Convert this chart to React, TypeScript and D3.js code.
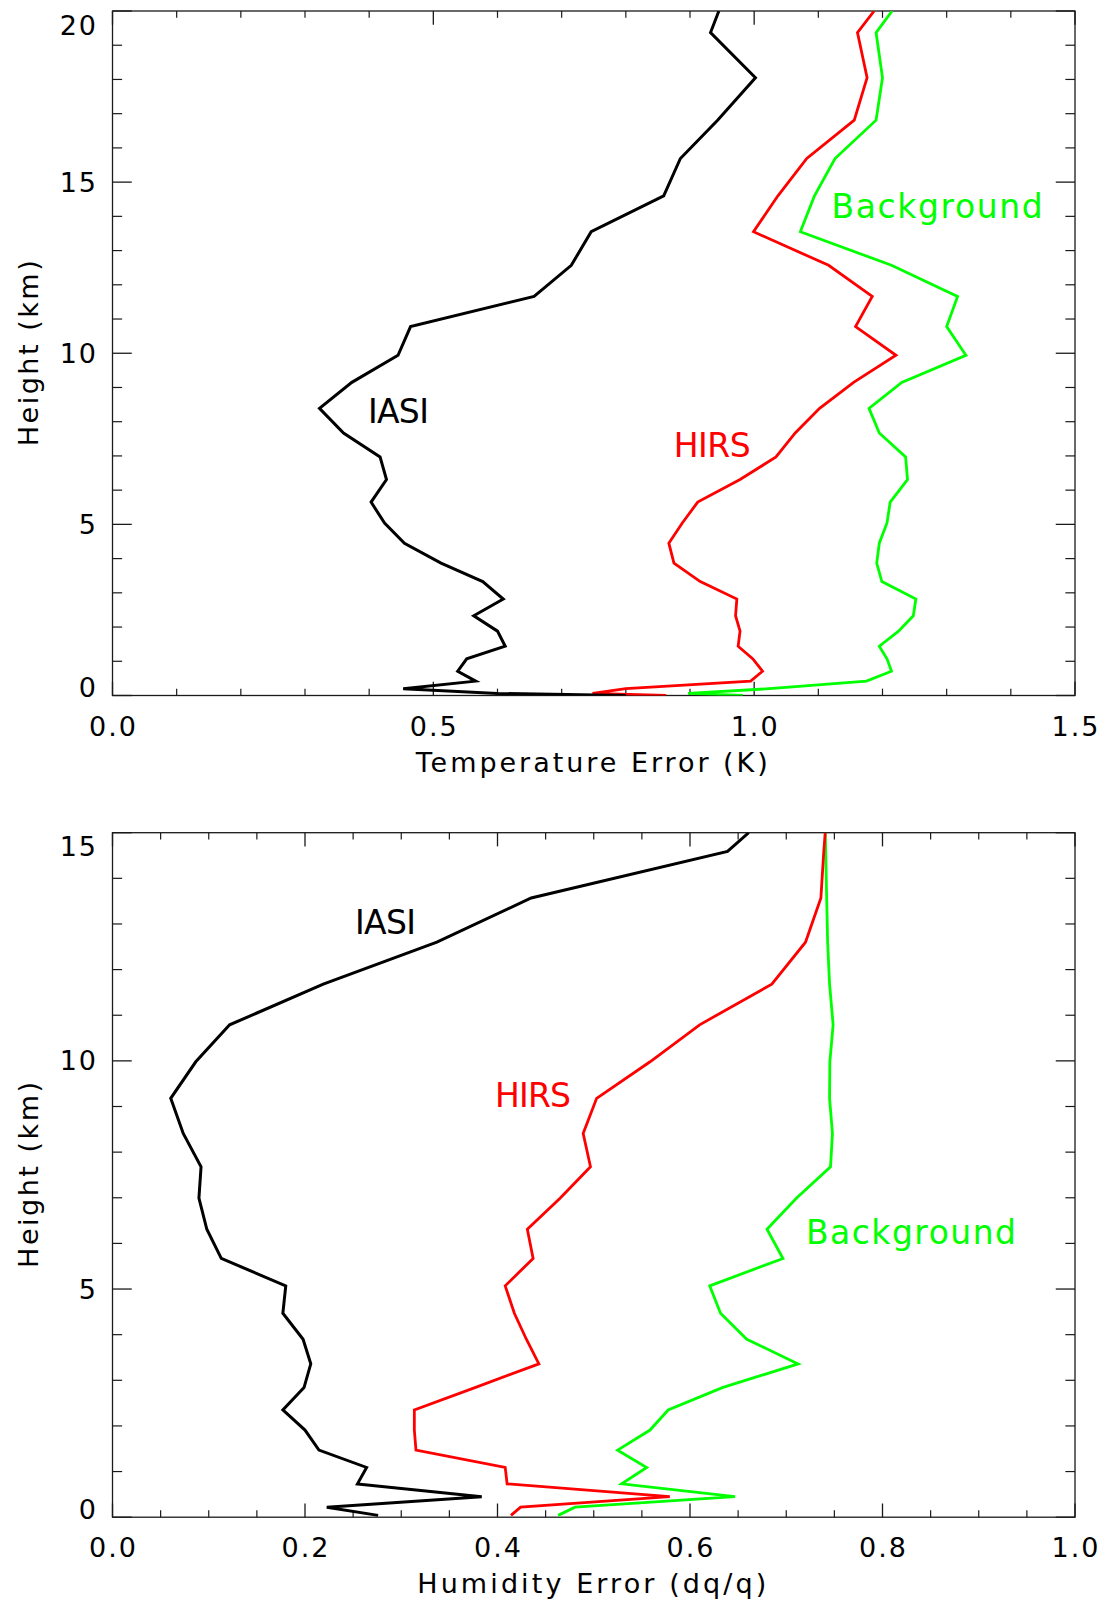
import React from 'react';
import * as d3 from 'd3';

// ---------- Temperature panel data ----------
const levelsT = [20, 19.37, 18.05, 16.81, 15.69, 14.6, 13.55, 12.57, 11.66, 10.78, 9.94, 9.15, 8.39, 7.67, 6.97, 6.31, 5.65, 5.04, 4.45, 3.87, 3.33, 2.82, 2.33, 1.88, 1.44, 1.07, 0.71, 0.42, 0.2, 0.06, 0];
const iasiT = [0.945, 0.932, 1.002, 0.943, 0.885, 0.859, 0.746, 0.715, 0.657, 0.4645, 0.445, 0.373, 0.3226, 0.36, 0.417, 0.427, 0.403, 0.424, 0.455, 0.512, 0.577, 0.609, 0.563, 0.6, 0.612, 0.552, 0.538, 0.566, 0.453, 0.6, 0.8];
const hirsT = [1.187, 1.161, 1.176, 1.156, 1.082, 1.037, 0.999, 1.116, 1.184, 1.158, 1.221, 1.155, 1.102, 1.064, 1.034, 0.978, 0.912, 0.888, 0.867, 0.875, 0.916, 0.973, 0.971, 0.978, 0.975, 0.998, 1.013, 0.9945, 0.8, 0.748, 0.863];
const bgT = [1.215, 1.19, 1.2, 1.19, 1.126, 1.094, 1.072, 1.214, 1.317, 1.3, 1.33, 1.23, 1.179, 1.195, 1.236, 1.239, 1.212, 1.207, 1.195, 1.191, 1.199, 1.252, 1.248, 1.225, 1.195, 1.207, 1.214, 1.175, 1.024, 0.897, 0.9826];
const xTicksT = [0, 0.5, 1.0, 1.5];
const yTicksT = [0, 5, 10, 15, 20];

// ---------- Humidity panel data ----------
const levelsQ = [15, 14.59, 13.57, 12.6, 11.68, 10.79, 9.98, 9.18, 8.41, 7.68, 6.99, 6.31, 5.67, 5.07, 4.47, 3.9, 3.36, 2.84, 2.35, 1.91, 1.47, 1.09, 0.73, 0.45, 0.22, 0.04];
const iasiQ = [0.661, 0.639, 0.435, 0.337, 0.219, 0.1217, 0.0865, 0.0605, 0.0735, 0.092, 0.0898, 0.098, 0.113, 0.18, 0.177, 0.198, 0.206, 0.199, 0.177, 0.2, 0.2145, 0.264, 0.2545, 0.3836, 0.2226, 0.276];
const hirsQ = [0.7405, 0.739, 0.736, 0.72, 0.685, 0.61, 0.5585, 0.503, 0.489, 0.4966, 0.465, 0.431, 0.437, 0.408, 0.4175, 0.43, 0.443, 0.3766, 0.3136, 0.3136, 0.3153, 0.408, 0.41, 0.579, 0.424, 0.414];
const bgQ = [0.7405, 0.741, 0.742, 0.743, 0.745, 0.7487, 0.7453, 0.745, 0.748, 0.746, 0.7105, 0.68, 0.6966, 0.6205, 0.6317, 0.659, 0.7123, 0.6336, 0.5773, 0.5585, 0.5248, 0.555, 0.529, 0.6468, 0.4805, 0.463];
const xTicksQ = [0, 0.2, 0.4, 0.6, 0.8, 1.0];
const yTicksQ = [0, 5, 10, 15];

const seriesNames = ['IASI', 'HIRS', 'Background'];

const FONT = '"DejaVu Sans", "Liberation Sans", sans-serif';
const BLACK = '#000000';
const RED = '#ff0000';
const GREEN = '#00ff00';

type Series = { values: number[]; color: string; width: number };
type Label = { text: string; at: [number, number]; width: number; color: string };

interface PanelProps {
  id: string;
  top: number;
  bottom: number;
  xMax: number;
  xTicks: number[];
  xMinorStep: number;
  yMax: number;
  yTicks: number[];
  yMinorStep: number;
  xTitle: string;
  xTitleWidth: number;
  levels: number[];
  series: Series[];
  labels: Label[];
}

const LEFT = 112.5;
const RIGHT = 1075;

function Panel(p: PanelProps) {
  const x = d3.scaleLinear().domain([0, p.xMax]).range([LEFT, RIGHT]);
  const y = d3.scaleLinear().domain([0, p.yMax]).range([p.bottom, p.top]);
  const line = d3
    .line<[number, number]>()
    .x((d) => x(d[0]))
    .y((d) => y(d[1]));

  const near = (a: number, list: number[]) => list.some((t) => Math.abs(t - a) < 1e-6);
  const xMinor = d3
    .range(0, p.xMax + 1e-9, p.xMinorStep)
    .map((v) => Math.round(v * 1000) / 1000)
    .filter((v) => !near(v, p.xTicks));
  const yMinor = d3
    .range(0, p.yMax + 1e-9, p.yMinorStep)
    .map((v) => Math.round(v * 1000) / 1000)
    .filter((v) => !near(v, p.yTicks));

  const ph = p.bottom - p.top;
  const pw = RIGHT - LEFT;
  const xMajLen = ph * 0.02;
  const yMajLen = pw * 0.02;
  const axisColor = '#1a1a1a';
  const fmtX = d3.format('.1f');

  const clipId = `clip-${p.id}`;
  return (
    <g>
      <defs>
        <clipPath id={clipId}>
          <rect x={LEFT} y={p.top} width={pw} height={ph} />
        </clipPath>
      </defs>
      <rect x={LEFT} y={p.top} width={pw} height={ph} fill="none" stroke={axisColor} strokeWidth={1.3} />
      {p.xTicks.map((t) => (
        <g key={`xt${t}`} stroke={axisColor} strokeWidth={1.3}>
          <line x1={x(t)} x2={x(t)} y1={p.bottom} y2={p.bottom - xMajLen} />
          <line x1={x(t)} x2={x(t)} y1={p.top} y2={p.top + xMajLen} />
        </g>
      ))}
      {xMinor.map((t) => (
        <g key={`xm${t}`} stroke={axisColor} strokeWidth={1.2}>
          <line x1={x(t)} x2={x(t)} y1={p.bottom} y2={p.bottom - xMajLen / 2} />
          <line x1={x(t)} x2={x(t)} y1={p.top} y2={p.top + xMajLen / 2} />
        </g>
      ))}
      {p.yTicks.map((t) => (
        <g key={`yt${t}`} stroke={axisColor} strokeWidth={1.3}>
          <line x1={LEFT} x2={LEFT + yMajLen} y1={y(t)} y2={y(t)} />
          <line x1={RIGHT} x2={RIGHT - yMajLen} y1={y(t)} y2={y(t)} />
        </g>
      ))}
      {yMinor.map((t) => (
        <g key={`ym${t}`} stroke={axisColor} strokeWidth={1.2}>
          <line x1={LEFT} x2={LEFT + yMajLen / 2} y1={y(t)} y2={y(t)} />
          <line x1={RIGHT} x2={RIGHT - yMajLen / 2} y1={y(t)} y2={y(t)} />
        </g>
      ))}
      {p.xTicks.map((t) => (
        <text
          key={`xl${t}`}
          x={x(t) + 1}
          y={p.bottom + 40}
          textAnchor="middle"
          fontFamily={FONT}
          fontSize={27}
          letterSpacing={2}
          fill="#000"
        >
          {fmtX(t)}
        </text>
      ))}
      {p.yTicks.map((t) => {
        const cy = Math.min(Math.max(y(t), p.top + 14), p.bottom - 8);
        return (
          <text
            key={`yl${t}`}
            x={98}
            y={cy}
            textAnchor="end"
            dominantBaseline="central"
            fontFamily={FONT}
            fontSize={27}
            letterSpacing={2}
            fill="#000"
          >
            {String(t)}
          </text>
        );
      })}
      <text
        x={(LEFT + RIGHT) / 2 - 2}
        y={p.bottom + 76}
        textAnchor="middle"
        fontFamily={FONT}
        fontSize={27}
        textLength={p.xTitleWidth}
        lengthAdjust="spacing"
        fill="#000"
      >
        {p.xTitle}
      </text>
      <text
        transform={`translate(28,${(p.top + p.bottom) / 2}) rotate(-90)`}
        textAnchor="middle"
        dominantBaseline="central"
        fontFamily={FONT}
        fontSize={27}
        textLength={186}
        lengthAdjust="spacing"
        fill="#000"
      >
        Height (km)
      </text>
      <g clipPath={`url(#${clipId})`}>
        {p.series.map((s, i) => (
          <path
            key={`s${i}`}
            d={line(d3.zip(s.values, p.levels) as [number, number][]) || ''}
            fill="none"
            stroke={s.color}
            strokeWidth={s.width}
            strokeLinejoin="miter"
          />
        ))}
      </g>
      {p.labels.map((l) => (
        <text
          key={`lab${l.text}`}
          x={x(l.at[0])}
          y={y(l.at[1])}
          fontFamily={FONT}
          fontSize={33}
          textLength={l.width}
          lengthAdjust="spacing"
          fill={l.color}
        >
          {l.text}
        </text>
      ))}
    </g>
  );
}

export default function App() {
  return (
    <svg
      width={1106}
      height={1607}
      viewBox="0 0 1106 1607"
      style={{ position: 'absolute', left: 0, top: 0, background: '#fff' }}
    >
      <rect x={0} y={0} width={1106} height={1607} fill="#fff" />
      <Panel
        id="temp"
        top={11}
        bottom={695.5}
        xMax={1.5}
        xTicks={xTicksT}
        xMinorStep={0.1}
        yMax={20}
        yTicks={yTicksT}
        yMinorStep={1}
        xTitle="Temperature Error (K)"
        xTitleWidth={352}
        levels={levelsT}
        series={[
          { values: bgT, color: GREEN, width: 2.8 },
          { values: hirsT, color: RED, width: 2.8 },
          { values: iasiT, color: BLACK, width: 3 },
        ]}
        labels={[
          { text: seriesNames[0], at: [0.398, 7.97], width: 61, color: BLACK },
          { text: seriesNames[1], at: [0.8746, 6.97], width: 77, color: RED },
          { text: seriesNames[2], at: [1.1207, 13.96], width: 211, color: GREEN },
        ]}
      />
      <Panel
        id="hum"
        top={832.7}
        bottom={1517.2}
        xMax={1.0}
        xTicks={xTicksQ}
        xMinorStep={0.05}
        yMax={15}
        yTicks={yTicksQ}
        yMinorStep={1}
        xTitle="Humidity Error (dq/q)"
        xTitleWidth={349}
        levels={levelsQ}
        series={[
          { values: bgQ, color: GREEN, width: 2.8 },
          { values: hirsQ, color: RED, width: 2.8 },
          { values: iasiQ, color: BLACK, width: 3 },
        ]}
        labels={[
          { text: seriesNames[0], at: [0.252, 12.78], width: 61, color: BLACK },
          { text: seriesNames[1], at: [0.3974, 8.99], width: 76, color: RED },
          { text: seriesNames[2], at: [0.7205, 5.99], width: 210, color: GREEN },
        ]}
      />
    </svg>
  );
}
